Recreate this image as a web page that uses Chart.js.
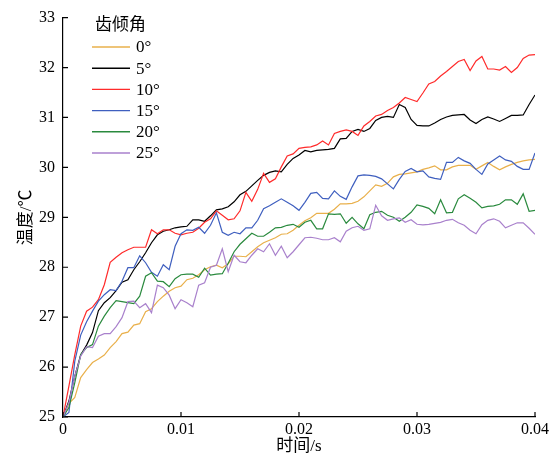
<!DOCTYPE html>
<html>
<head>
<meta charset="utf-8">
<script src="https://cdn.jsdelivr.net/npm/chart.js@4.4.1/dist/chart.umd.min.js"></script>
<style>
  body { margin: 0; background: #fff; }
</style>
</head>
<body>
<canvas id="c" width="555" height="460"></canvas>
<script>
// time axis (s)
var times = [0, 0.0005, 0.001, 0.0015, 0.002, 0.0025, 0.003, 0.0035, 0.004, 0.0045,
  0.005, 0.0055, 0.006, 0.0065, 0.007, 0.0075, 0.008, 0.0085, 0.009, 0.0095,
  0.01, 0.0105, 0.011, 0.0115, 0.012, 0.0125, 0.013, 0.0135, 0.014, 0.0145,
  0.015, 0.0155, 0.016, 0.0165, 0.017, 0.0175, 0.018, 0.0185, 0.019, 0.0195,
  0.02, 0.0205, 0.021, 0.0215, 0.022, 0.0225, 0.023, 0.0235, 0.024, 0.0245,
  0.025, 0.0255, 0.026, 0.0265, 0.027, 0.0275, 0.028, 0.0285, 0.029, 0.0295,
  0.03, 0.0305, 0.031, 0.0315, 0.032, 0.0325, 0.033, 0.0335, 0.034, 0.0345,
  0.035, 0.0355, 0.036, 0.0365, 0.037, 0.0375, 0.038, 0.0385, 0.039, 0.0395, 0.04];

var angleLabels = ["0°", "5°", "10°", "15°", "20°", "25°"];
var lineColors = ["#E9B04B", "#000000", "#FF2B2B", "#3F5FBF", "#2A8A3E", "#A981CC"];

var temp0 = [25.0, 25.27, 25.39, 25.79, 25.95, 26.09, 26.16, 26.24, 26.39, 26.51,
  26.67, 26.7, 26.84, 26.87, 27.11, 27.17, 27.31, 27.42, 27.52, 27.59,
  27.62, 27.75, 27.78, 27.85, 27.95, 28.01, 28.04, 27.99, 28.07, 28.22,
  28.22, 28.21, 28.31, 28.41, 28.49, 28.54, 28.59, 28.66, 28.67, 28.74,
  28.84, 28.93, 28.99, 29.08, 29.08, 29.08, 29.16, 29.27, 29.27, 29.28,
  29.32, 29.41, 29.53, 29.65, 29.62, 29.68, 29.81, 29.86, 29.87, 29.89,
  29.91, 29.96, 29.99, 30.03, 29.95, 29.95, 30.01, 30.04, 30.04, 30.04,
  29.96, 30.03, 30.1, 30.02, 29.95, 30.01, 30.06, 30.1, 30.13, 30.15, 30.16];

var temp5 = [25.0, 25.32, 25.82, 26.24, 26.44, 26.69, 27.13, 27.29, 27.39, 27.53,
  27.7, 27.75, 27.95, 28.11, 28.29, 28.49, 28.65, 28.72, 28.75, 28.79,
  28.81, 28.82, 28.95, 28.95, 28.92, 29.03, 29.15, 29.17, 29.21, 29.31,
  29.45, 29.52, 29.63, 29.74, 29.84, 29.9, 29.93, 29.91, 30.06, 30.18,
  30.25, 30.34, 30.31, 30.34, 30.35, 30.36, 30.38, 30.57, 30.58, 30.72,
  30.76, 30.72, 30.78, 30.94, 31.0, 31.02, 31.0, 31.26, 31.2, 30.96,
  30.84, 30.83, 30.83, 30.89, 30.96, 31.01, 31.04, 31.05, 31.06, 30.95,
  30.88, 30.96, 31.01, 30.97, 30.92, 30.98, 31.04, 31.04, 31.05, 31.26, 31.45];

var temp10 = [25.0, 25.62, 26.25, 26.82, 27.12, 27.2, 27.35, 27.65, 28.1, 28.2,
  28.29, 28.35, 28.4, 28.4, 28.4, 28.75, 28.67, 28.75, 28.75, 28.68,
  28.65, 28.68, 28.7, 28.78, 28.9, 28.97, 29.13, 29.04, 28.95, 28.97,
  29.13, 29.5, 29.32, 29.56, 29.88, 29.7, 29.77, 30.01, 30.23, 30.27,
  30.38, 30.4, 30.41, 30.45, 30.53, 30.45, 30.68, 30.72, 30.75, 30.72,
  30.64, 30.83, 30.92, 31.03, 31.06, 31.14, 31.2, 31.29, 31.4, 31.36,
  31.32, 31.49, 31.67, 31.72, 31.83, 31.92, 32.02, 32.12, 32.16, 31.94,
  32.13, 32.22, 31.97, 31.97, 31.95, 32.02, 31.9, 32.0, 32.18, 32.25, 32.26];

var temp15 = [25.0, 25.09, 26.12, 26.64, 26.91, 27.12, 27.32, 27.45, 27.55, 27.53,
  27.72, 27.99, 27.99, 28.23, 28.09, 27.9, 27.82, 28.05, 27.95, 28.42,
  28.67, 28.75, 28.74, 28.8, 28.68, 28.84, 29.09, 28.7, 28.64, 28.7,
  28.67, 28.79, 28.79, 28.94, 29.17, 29.23, 29.3, 29.37, 29.3, 29.23,
  29.14, 29.3, 29.48, 29.5, 29.38, 29.37, 29.53, 29.42, 29.36, 29.61,
  29.83, 29.85, 29.84, 29.82, 29.77, 29.67, 29.57, 29.76, 29.92, 29.98,
  29.91, 29.93, 29.81, 29.78, 29.76, 30.1, 30.1, 30.2, 30.13, 30.08,
  29.96, 29.86, 30.07, 30.15, 30.23, 30.15, 30.12, 30.02, 29.96, 29.96, 30.29];

var temp20 = [25.0, 25.19, 25.69, 26.25, 26.39, 26.45, 26.82, 27.02, 27.19, 27.33,
  27.31, 27.29, 27.27, 27.42, 27.82, 27.89, 27.72, 27.71, 27.61, 27.77,
  27.85, 27.86, 27.86, 27.8, 27.98, 27.84, 27.86, 27.87, 28.08, 28.31,
  28.46, 28.57, 28.68, 28.62, 28.62, 28.7, 28.79, 28.8, 28.84, 28.86,
  28.8, 28.9, 28.94, 28.77, 28.77, 29.07, 29.06, 29.07, 28.88, 29.0,
  28.87, 28.77, 29.05, 29.1, 29.12, 29.04, 29.0, 28.92, 29.0, 29.1,
  29.25, 29.22, 29.18, 29.07, 29.35, 29.09, 29.1, 29.37, 29.45, 29.38,
  29.3, 29.19, 29.22, 29.23, 29.26, 29.35, 29.35, 29.26, 29.47, 29.12, 29.14];

var temp25 = [25.0, 25.29, 25.82, 26.22, 26.41, 26.39, 26.62, 26.67, 26.67, 26.81,
  26.99, 27.31, 27.32, 27.19, 27.27, 27.09, 27.64, 27.59, 27.44, 27.17,
  27.35, 27.29, 27.21, 27.64, 27.69, 28.0, 28.04, 28.37, 27.91, 28.24,
  28.11, 28.09, 28.24, 28.37, 28.31, 28.47, 28.24, 28.42, 28.19, 28.31,
  28.45, 28.59, 28.6, 28.58, 28.55, 28.55, 28.59, 28.51, 28.72, 28.79,
  28.82, 28.74, 28.77, 29.24, 29.03, 28.94, 28.97, 28.99, 28.9, 28.95,
  28.86, 28.85, 28.86, 28.88, 28.9, 28.94, 28.96, 28.89, 28.84, 28.74,
  28.67, 28.85, 28.94, 28.97, 28.92, 28.79, 28.84, 28.89, 28.89, 28.78, 28.66];

var series = [temp0, temp5, temp10, temp15, temp20, temp25];

var serif = "'Liberation Serif', 'Times New Roman', 'Noto Sans CJK SC', serif";

function toPoints(vals) {
  return vals.map(function (v, i) { return { x: times[i], y: v }; });
}

var datasets = series.map(function (vals, i) {
  return {
    label: angleLabels[i],
    data: toPoints(vals),
    borderColor: lineColors[i],
    backgroundColor: lineColors[i],
    borderWidth: 1.2,
    pointRadius: 0,
    tension: 0,
    order: series.length - i
  };
});

// small ticks pointing into the plot
var innerTicks = {
  id: 'innerTicks',
  afterDraw: function (chart) {
    var ctx = chart.ctx, a = chart.chartArea;
    var xs = chart.scales.x, ys = chart.scales.y;
    ctx.save();
    ctx.strokeStyle = '#000';
    ctx.lineWidth = 1.2;
    ctx.beginPath();
    xs.ticks.forEach(function (t) {
      var px = xs.getPixelForValue(t.value);
      ctx.moveTo(px, a.bottom);
      ctx.lineTo(px, a.bottom - 5);
    });
    ys.ticks.forEach(function (t) {
      var py = ys.getPixelForValue(t.value);
      ctx.moveTo(a.left, py);
      ctx.lineTo(a.left + 5, py);
    });
    ctx.stroke();
    ctx.restore();
  }
};

// legend drawn inside the plot, top left
var insideLegend = {
  id: 'insideLegend',
  afterDraw: function (chart) {
    var ctx = chart.ctx;
    ctx.save();
    ctx.fillStyle = '#000';
    ctx.textBaseline = 'middle';
    ctx.textAlign = 'left';
    ctx.font = "17px 'Noto Sans CJK SC', sans-serif";
    ctx.fillText('齿倾角', 95, 24);
    ctx.font = "17px " + serif;
    chart.data.datasets.forEach(function (ds, i) {
      var y = 47 + i * 21.2;
      ctx.strokeStyle = ds.borderColor;
      ctx.lineWidth = 1.4;
      ctx.beginPath();
      ctx.moveTo(92, y);
      ctx.lineTo(130, y);
      ctx.stroke();
      ctx.fillText(ds.label, 136, y + 1);
    });
    ctx.restore();
  }
};

new Chart(document.getElementById('c').getContext('2d'), {
  type: 'line',
  data: { datasets: datasets },
  plugins: [innerTicks, insideLegend],
  options: {
    responsive: false,
    animation: false,
    layout: { padding: { top: 16, right: 20, bottom: 0, left: 0 } },
    plugins: { legend: { display: false }, tooltip: { enabled: false } },
    scales: {
      x: {
        type: 'linear',
        min: 0,
        max: 0.04,
        grid: { display: false, drawTicks: false },
        border: { display: true, color: '#000', width: 1.2 },
        ticks: {
          stepSize: 0.01,
          color: '#000',
          padding: 3,
          maxRotation: 0,
          font: { family: serif, size: 16 },
          callback: function (v) { return v === 0 ? '0' : v.toFixed(2); }
        },
        title: {
          display: true,
          text: '时间/s',
          color: '#000',
          font: { family: serif, size: 17 },
          padding: { top: 0, bottom: 3 }
        },
        afterFit: function (s) { s.height = 43; }
      },
      y: {
        min: 25,
        max: 33,
        grid: { display: false, drawTicks: false },
        border: { display: true, color: '#000', width: 1.2 },
        ticks: {
          stepSize: 1,
          color: '#000',
          padding: 8,
          font: { family: serif, size: 16 }
        },
        title: {
          display: true,
          text: '温度/℃',
          color: '#000',
          font: { family: serif, size: 17 },
          padding: { top: 16, bottom: 0 }
        },
        afterFit: function (s) { s.width = 63; }
      }
    }
  }
});
</script>
</body>
</html>
